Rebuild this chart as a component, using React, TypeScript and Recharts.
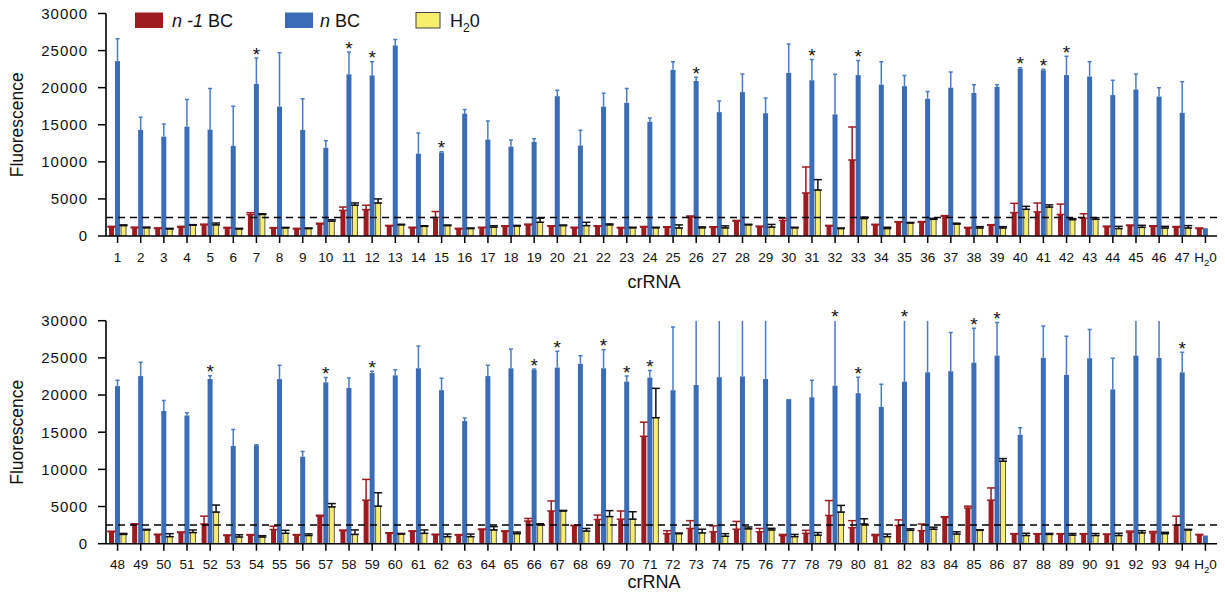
import React from 'react';
import { BarChart, Bar, XAxis, YAxis, ErrorBar, ReferenceLine, LabelList } from 'recharts';

const RED = '#9e1b20';
const BLUE = '#3b6db6';
const BLUE_ERR = '#4a7cc6';
const YELLOW = '#f6ee6c';
const FONT = '"Liberation Sans", Arial, Helvetica, sans-serif';

const seriesNames = ['n -1 BC', 'n BC', 'H20'];
const yTicks = [0, 5000, 10000, 15000, 20000, 25000, 30000];
const threshold = 2500;

const topLabels = ['1', '2', '3', '4', '5', '6', '7', '8', '9', '10', '11', '12', '13', '14', '15', '16', '17', '18', '19', '20', '21', '22', '23', '24', '25', '26', '27', '28', '29', '30', '31', '32', '33', '34', '35', '36', '37', '38', '39', '40', '41', '42', '43', '44', '45', '46', '47', 'H20'];
const topRed = [1200, 1100, 1000, 1200, 1500, 1080, 2900, 1050, 950, 1600, 3450, 3550, 1350, 1100, 2500, 950, 1100, 1300, 1500, 1300, 1100, 1300, 1080, 1200, 1170, 2600, 1170, 2000, 1250, 2100, 5800, 1350, 10250, 1500, 1850, 1850, 2650, 1080, 1450, 3150, 3250, 2900, 2400, 1250, 1400, 1300, 1200, 1000];
const topRedErr = [100, 100, 100, 100, 100, 80, 250, 80, 80, 120, 450, 600, 80, 80, 800, 80, 80, 80, 100, 80, 80, 80, 80, 80, 80, 100, 80, 100, 80, 300, 3500, 80, 4450, 80, 80, 100, 100, 80, 80, 1250, 1200, 1400, 600, 80, 80, 80, 80, 80];
const topBlue = [23580, 14300, 13400, 14750, 14350, 12150, 20500, 17450, 14300, 11900, 21800, 21650, 25700, 11100, 11250, 16500, 13000, 12050, 12700, 18850, 12200, 17450, 17950, 15400, 22400, 20900, 16700, 19400, 16550, 22000, 21000, 16400, 21700, 20400, 20200, 18500, 20000, 19300, 20100, 22550, 22350, 21700, 21500, 19000, 19750, 18800, 16600, 1050];
const topBlueErr = [3000, 1700, 1700, 3650, 5550, 5350, 3500, 7250, 4200, 950, 3000, 1850, 800, 2800, 100, 550, 2500, 900, 400, 800, 2050, 1800, 1950, 500, 1100, 500, 1500, 2450, 2050, 3900, 2800, 5400, 1950, 3100, 1450, 1000, 2100, 1100, 300, 150, 150, 2550, 2000, 2000, 2100, 1200, 4200, 0];
const topYellow = [1400, 1100, 950, 1450, 1500, 950, 2900, 1080, 1000, 2000, 4150, 4450, 1500, 1300, 1400, 1000, 1200, 1350, 1850, 1400, 1400, 1500, 1100, 1100, 1080, 1100, 1100, 1500, 1200, 1100, 6200, 1000, 2350, 1000, 1750, 2250, 1600, 1080, 1080, 3600, 3900, 2200, 2250, 1000, 1170, 1080, 1080, null];
const topYellowErr = [100, 100, 80, 80, 250, 80, 100, 80, 80, 200, 300, 550, 80, 80, 80, 80, 180, 80, 550, 80, 450, 130, 80, 80, 420, 130, 270, 80, 360, 80, 1400, 80, 200, 180, 80, 130, 130, 180, 180, 400, 300, 150, 220, 300, 270, 220, 320, null];
const topStars = ['7', '11', '12', '15', '26', '31', '33', '40', '41', '42'];

const botLabels = ['48', '49', '50', '51', '52', '53', '54', '55', '56', '57', '58', '59', '60', '61', '62', '63', '64', '65', '66', '67', '68', '69', '70', '71', '72', '73', '74', '75', '76', '77', '78', '79', '80', '81', '82', '83', '84', '85', '86', '87', '88', '89', '90', '91', '92', '93', '94', 'H20'];
const botRed = [1600, 2600, 1200, 1500, 2650, 1100, 1150, 1900, 1150, 3700, 1750, 5850, 1400, 1650, 1200, 1150, 1900, 1650, 3050, 4400, 2450, 3250, 3300, 14450, 1350, 2050, 1600, 1950, 1600, 1100, 1400, 3800, 2150, 1100, 2450, 1750, 3550, 4800, 5850, 1300, 1300, 1300, 1300, 1250, 1550, 1450, 2500, 1200];
const botRedErr = [80, 80, 80, 80, 1050, 80, 80, 450, 80, 130, 80, 2800, 80, 80, 80, 80, 80, 80, 350, 1350, 0, 600, 1100, 1900, 400, 1050, 800, 1050, 450, 150, 400, 2000, 950, 150, 750, 900, 80, 250, 1650, 50, 50, 50, 50, 50, 150, 200, 1200, 50];
const botBlue = [21200, 22550, 17850, 17250, 22150, 13150, 13250, 22150, 11700, 21700, 20950, 22950, 22650, 23600, 20650, 16500, 22550, 23600, 23400, 23700, 24200, 23600, 21800, 22350, 20650, 21350, 22400, 22500, 22150, 19450, 19700, 21250, 20250, 18400, 21800, 23050, 23200, 24350, 25300, 14650, 25000, 22700, 24950, 20750, 25300, 25000, 23050, 1100];
const botBlueErr = [800, 1850, 1400, 350, 450, 2200, 50, 1850, 700, 650, 1350, 250, 750, 3000, 1600, 400, 1450, 2600, 100, 2200, 1100, 2500, 750, 950, 8500, 12000, 12000, 12000, 12000, 0, 2300, 12000, 2150, 3050, 12000, 9000, 5200, 4650, 4450, 950, 4300, 5200, 3850, 4200, 8000, 8000, 2700, 0];
const botYellow = [1250, 1850, 950, 1500, 4250, 900, 900, 1400, 1100, 4950, 1250, 5050, 1300, 1400, 950, 950, 1850, 1350, 2550, 4400, 1700, 3650, 3300, 16950, 1350, 1450, 1000, 2000, 1850, 950, 1150, 4250, 2650, 950, 1800, 1950, 1300, 1800, 11100, 1100, 1250, 1150, 1100, 1100, 1450, 1350, 1850, null];
const botYellowErr = [130, 80, 400, 350, 950, 300, 180, 400, 220, 450, 600, 1800, 80, 450, 350, 350, 450, 220, 130, 80, 350, 800, 1000, 3950, 80, 500, 350, 250, 220, 300, 350, 900, 700, 350, 200, 270, 300, 80, 350, 300, 130, 220, 270, 300, 300, 180, 80, null];
const botStars = ['52', '57', '59', '66', '67', '69', '70', '71', '79', '80', '82', '85', '86', '94'];

function buildRows(labels, red, redErr, blue, blueErr, yellow, yellowErr) {
  return labels.map((name, i) => ({
    name,
    red: red[i],
    redErr: [0, redErr[i]],
    blue: blue[i],
    blueErr: blueErr[i],
    yellow: yellow[i],
    yellowErr: yellowErr[i] == null ? null : [0, yellowErr[i]],
  }));
}

const topRows = buildRows(topLabels, topRed, topRedErr, topBlue, topBlueErr, topYellow, topYellowErr);
const botRows = buildRows(botLabels, botRed, botRedErr, botBlue, botBlueErr, botYellow, botYellowErr);

const XTick = (props: any) => {
  const { x, y, payload } = props;
  if (payload.value === 'H20') {
    return (
      <text x={x} y={y} dy="0.71em" textAnchor="middle" fontSize={13.5} fontFamily={FONT} fill="#111">
        <tspan>H</tspan>
        <tspan dy={4} fontSize={9.5}>2</tspan>
        <tspan dy={-4}>0</tspan>
      </text>
    );
  }
  return (
    <text x={x} y={y} dy="0.71em" textAnchor="middle" fontSize={13.5} fontFamily={FONT} fill="#111">
      {payload.value}
    </text>
  );
};

// blue bar + its upper error bar; the whisker stops at the plot top (no cap) when it runs past 30000
const blueShape = (plotTop: number) => (p: any) => {
  const { x, y, width, height, payload } = p;
  const cx = x + width / 2;
  const errPx = payload.blue ? (payload.blueErr * height) / payload.blue : 0;
  const rawTop = y - errPx;
  const top = Math.max(rawTop, plotTop);
  return (
    <g>
      <rect x={x} y={y} width={width} height={height} fill={BLUE} />
      {errPx > 0 && <line x1={cx} x2={cx} y1={y} y2={top} stroke={BLUE_ERR} strokeWidth={1.5} />}
      {errPx > 0 && rawTop >= plotTop && (
        <line x1={cx - 2} x2={cx + 2} y1={top} y2={top} stroke={BLUE_ERR} strokeWidth={1.5} />
      )}
    </g>
  );
};

function Panel({ rows, stars, marginTop, height, plotH, titleY }) {
  const xh = height - marginTop - plotH;
  const starContent = (p: any) => {
    const row = rows[p.index];
    if (!row || !stars.includes(row.name)) return null;
    const scale = p.height / row.blue;
    const errTop = p.y - row.blueErr * scale;
    const cy = Math.max(errTop, marginTop) - 8.5;
    return (
      <text x={p.x + p.width / 2} y={cy + 11} textAnchor="middle" fontSize={19} fontFamily={FONT} fill="#111">
        *
      </text>
    );
  };
  return (
    <BarChart
      width={1225}
      height={height}
      data={rows}
      margin={{ top: marginTop, right: 8, bottom: 0, left: 0 }}
      barSize={5}
      barGap={1}
    >
      <XAxis
        dataKey="name"
        interval={0}
        height={xh}
        tickSize={7}
        tickMargin={9}
        tick={<XTick />}
        axisLine={{ stroke: '#000', strokeWidth: 1.6 }}
        tickLine={{ stroke: '#000', strokeWidth: 1.5 }}
        label={{
          content: () => (
            <text x={654} y={titleY} textAnchor="middle" fontSize={18} fontFamily={FONT} fill="#111">
              crRNA
            </text>
          ),
        }}
      />
      <YAxis
        width={106}
        domain={[0, 30000]}
        ticks={yTicks}
        allowDataOverflow
        interval={0}
        tickSize={8}
        tickMargin={10}
        tick={{ fontSize: 15, fontFamily: FONT, fill: '#111', letterSpacing: 1 }}
        axisLine={{ stroke: '#000', strokeWidth: 1.6 }}
        tickLine={{ stroke: '#000', strokeWidth: 1.5 }}
        label={{
          content: () => {
            const cy = marginTop + plotH / 2;
            return (
              <text x={23} y={cy} transform={`rotate(-90, 23, ${cy})`} textAnchor="middle" fontSize={17.5} fontFamily={FONT} fill="#111">
                Fluorescence
              </text>
            );
          },
        }}
      />
      <Bar dataKey="red" name={seriesNames[0]} fill={RED} isAnimationActive={false}>
        <ErrorBar dataKey="redErr" width={4} stroke={RED} strokeWidth={1.5} direction="y" />
      </Bar>
      <Bar dataKey="blue" name={seriesNames[1]} fill={BLUE} shape={blueShape(marginTop)} isAnimationActive={false}>
        <LabelList dataKey="blue" content={starContent} />
      </Bar>
      <Bar dataKey="yellow" name={seriesNames[2]} fill={YELLOW} stroke="#333" strokeWidth={0.8} isAnimationActive={false}>
        <ErrorBar dataKey="yellowErr" width={4} stroke="#111" strokeWidth={1.5} direction="y" />
      </Bar>
      <ReferenceLine y={threshold} stroke="#000" strokeWidth={1.5} strokeDasharray="7 5" />
    </BarChart>
  );
}

const LegendOverlay = () => {
  const items = [
    { x: 135, color: RED, stroke: 'none', tx: 172 },
    { x: 285, color: BLUE, stroke: 'none', tx: 320 },
    { x: 416, color: YELLOW, stroke: '#444', tx: 450 },
  ];
  return (
    <svg width={600} height={40} style={{ position: 'absolute', left: 0, top: 0 }}>
      {items.map((it, i) => (
        <rect key={i} x={it.x} y={12.5} width={i === 2 ? 24 : 28} height={15.5} fill={it.color} stroke={it.stroke} strokeWidth={1} />
      ))}
      <text x={items[0].tx} y={27} fontSize={18} fontFamily={FONT} fill="#111">
        <tspan fontStyle="italic">n -1</tspan>
        <tspan> BC</tspan>
      </text>
      <text x={items[1].tx} y={27} fontSize={18} fontFamily={FONT} fill="#111">
        <tspan fontStyle="italic">n</tspan>
        <tspan> BC</tspan>
      </text>
      <text x={items[2].tx} y={27} fontSize={18} fontFamily={FONT} fill="#111">
        <tspan>H</tspan>
        <tspan dy={5} fontSize={12}>2</tspan>
        <tspan dy={-5}>0</tspan>
      </text>
    </svg>
  );
};

export default function App() {
  return (
    <div style={{ position: 'absolute', left: 0, top: 0, width: 1225, height: 597, background: '#fff' }}>
      <div style={{ position: 'absolute', left: 0, top: 0 }}>
        <Panel rows={topRows} stars={topStars} marginTop={13.5} plotH={222.5} height={297} titleY={288} />
      </div>
      <div style={{ position: 'absolute', left: 0, top: 300 }}>
        <Panel rows={botRows} stars={botStars} marginTop={20.7} plotH={223} height={297} titleY={288} />
      </div>
      <LegendOverlay />
    </div>
  );
}
